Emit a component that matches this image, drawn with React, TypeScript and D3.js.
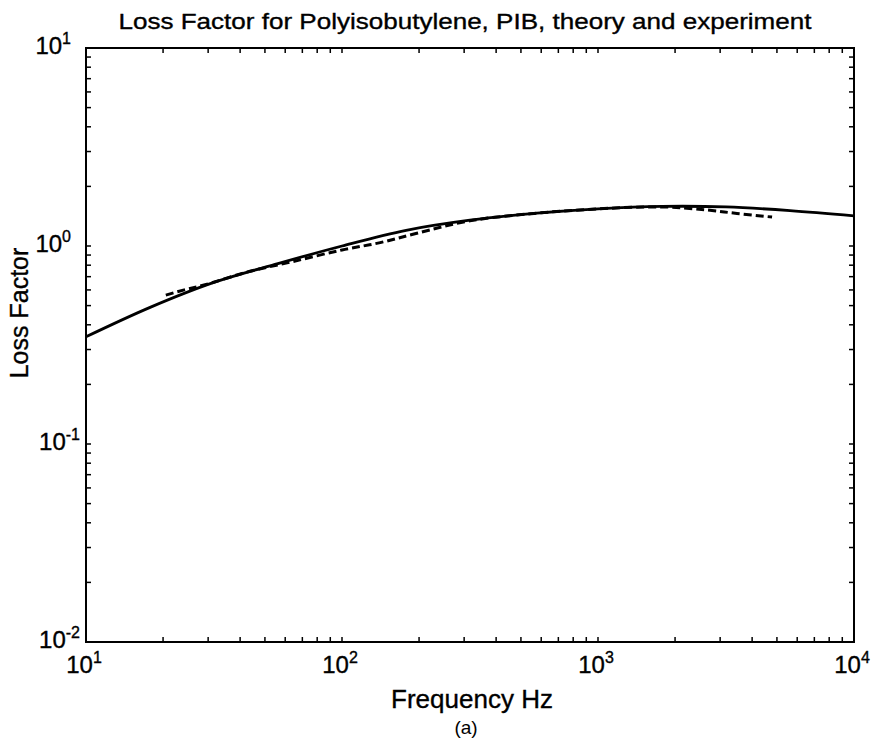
import React from "react";
import * as d3 from "d3";

const theoryFreq = [10, 17.8, 31.6, 56.2, 100, 178, 316, 562, 1000, 1778, 3162, 5623, 10000];
const theoryLF = [0.348, 0.49, 0.655, 0.815, 1.0, 1.2, 1.35, 1.46, 1.54, 1.585, 1.575, 1.51, 1.42];

const expFreq = [20.5, 24.2, 28.9, 43.7, 64.4, 100, 141, 196, 316, 562, 1000, 1778, 2667, 3490, 4786];
const expLF = [0.565, 0.6, 0.635, 0.745, 0.835, 0.955, 1.04, 1.16, 1.34, 1.46, 1.54, 1.575, 1.52, 1.46, 1.4];

const xTickExps = [1, 2, 3, 4];
const yTickExps = [1, 0, -1, -2];

const titleText = "Loss Factor for Polyisobutylene, PIB, theory and experiment";
const xLabelText = "Frequency Hz";
const yLabelText = "Loss Factor";
const captionText = "(a)";

const W = 874;
const H = 741;
const M = { left: 86, right: 854, top: 48, bottom: 642 };
const FONT = "'Liberation Sans', Arial, Helvetica, sans-serif";

export default function App() {
  const x = d3.scaleLog().domain([10, 10000]).range([M.left, M.right]);
  const y = d3.scaleLog().domain([0.01, 10]).range([M.bottom, M.top]);

  const line = d3
    .line<[number, number]>()
    .x((d) => x(d[0]))
    .y((d) => y(d[1]))
    .curve(d3.curveCatmullRom.alpha(0.5));

  const theory = theoryFreq.map((f, i) => [f, theoryLF[i]] as [number, number]);
  const exp = expFreq.map((f, i) => [f, expLF[i]] as [number, number]);

  const xMinor: number[] = [];
  for (let e = 1; e < 4; e++) for (let k = 2; k <= 9; k++) xMinor.push(k * Math.pow(10, e));
  const yMinor: number[] = [];
  for (let e = -2; e < 1; e++) for (let k = 2; k <= 9; k++) yMinor.push(k * Math.pow(10, e));

  const tl = 5;
  const txt = { fill: "#000", stroke: "#000", strokeWidth: 0.35 };

  return (
    <svg width={W} height={H} style={{ position: "absolute", left: 0, top: 0, background: "#fff" }} fontFamily={FONT}>
      <rect x={0} y={0} width={W} height={H} fill="#fff" />
      <g stroke="#000" strokeWidth={1.5}>
        {[...xMinor, ...xTickExps.map((e) => Math.pow(10, e))].map((v, i) => (
          <g key={"xt" + i}>
            <line x1={x(v)} x2={x(v)} y1={M.bottom} y2={M.bottom - tl} />
            <line x1={x(v)} x2={x(v)} y1={M.top} y2={M.top + tl} />
          </g>
        ))}
        {[...yMinor, ...yTickExps.map((e) => Math.pow(10, e))].map((v, i) => (
          <g key={"yt" + i}>
            <line x1={M.left} x2={M.left + tl} y1={y(v)} y2={y(v)} />
            <line x1={M.right} x2={M.right - tl} y1={y(v)} y2={y(v)} />
          </g>
        ))}
      </g>
      <rect x={M.left} y={M.top} width={M.right - M.left} height={M.bottom - M.top} fill="none" stroke="#000" strokeWidth={2} />
      <path d={line(theory) || ""} fill="none" stroke="#000" strokeWidth={2.8} />
      <path d={line(exp) || ""} fill="none" stroke="#000" strokeWidth={3} strokeDasharray="8 4" />
      {xTickExps.map((e) => (
        <text key={"xl" + e} x={x(Math.pow(10, e)) - 2} y={673} fontSize={24} textAnchor="middle" {...txt}>
          <tspan>10</tspan>
          <tspan dy={-10} fontSize={16}>{e}</tspan>
        </text>
      ))}
      {yTickExps.map((e) => (
        <text key={"yl" + e} x={e < 0 ? 80 : 71} y={y(Math.pow(10, e)) + 6} fontSize={24} textAnchor="end" {...txt}>
          <tspan>10</tspan>
          <tspan dy={-10} fontSize={16}>{e}</tspan>
        </text>
      ))}
      <text x={465} y={29} fontSize={22} textAnchor="middle" textLength={693} lengthAdjust="spacingAndGlyphs" {...txt}>
        {titleText}
      </text>
      <text x={472} y={708} fontSize={26} textAnchor="middle" {...txt}>
        {xLabelText}
      </text>
      <text x={466} y={734} fontSize={19} textAnchor="middle" fill="#000">
        {captionText}
      </text>
      <text transform={`translate(28, 313) rotate(-90)`} fontSize={25} textAnchor="middle" {...txt}>
        {yLabelText}
      </text>
    </svg>
  );
}
